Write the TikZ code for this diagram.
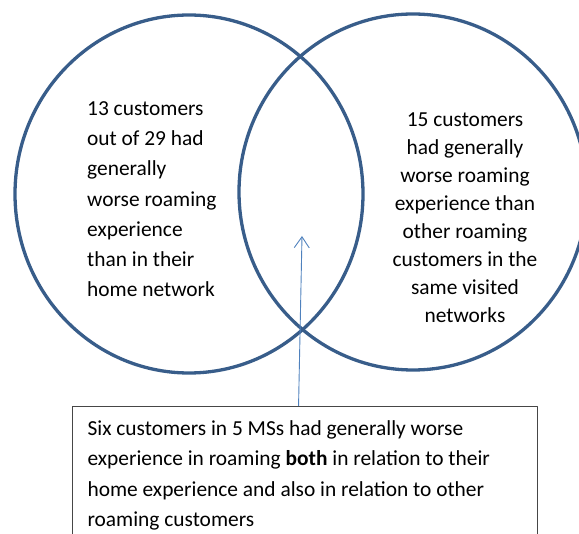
\documentclass[tikz,border=0pt]{standalone}
\usepackage{fontspec}
\setmainfont{Carlito}
\usetikzlibrary{arrows.meta}
\definecolor{vennblue}{RGB}{56,93,138}
\definecolor{arrowblue}{RGB}{79,129,189}
\definecolor{boxgray}{RGB}{70,70,70}
\begin{document}
\begin{tikzpicture}[x=1pt,y=-1pt,line join=round,
		venn/.style={draw=vennblue,line width=3.3pt},
		txt/.style={inner sep=0pt,font=\fontsize{21.4}{30.3}\selectfont},
		pointer/.style={draw=arrowblue,line width=0.9pt,-{Straight Barb[length=11pt,width=15pt]}}]
	\useasboundingbox (0,0) rectangle (579,534);
	\clip (0,0) rectangle (579,534);
	% the two sets
	\draw[venn] (189,194) ellipse [x radius=174pt,y radius=179pt];
	\draw[venn] (413,192) ellipse [x radius=174pt,y radius=178pt];
	\node[txt,align=left,anchor=base west] (home) at (87,297)
		{13 customers\\out of 29 had\\generally\\worse roaming\\experience\\than in their\\home network};
	\node[txt,align=center,anchor=base,font=\fontsize{21.4}{28}\selectfont] (visited) at (465,323)
		{15 customers\\had generally\\worse roaming\\experience than\\other roaming\\customers in the\\same visited\\networks};
	% the overlap
	\node[txt,draw=boxgray,line width=1.1pt,align=flush left,text width=435pt,anchor=north west,inner xsep=15pt,inner ysep=14pt] (both) at (72,406)
		{Six customers in 5 MSs had generally worse\\experience in roaming \textbf{both} in relation to their\\home experience and also in relation to other\\roaming customers};
	\coordinate (tip) at (302,236);
	\draw[pointer] ([xshift=-6.5pt]both.north) -- (tip);
\end{tikzpicture}
\end{document}
